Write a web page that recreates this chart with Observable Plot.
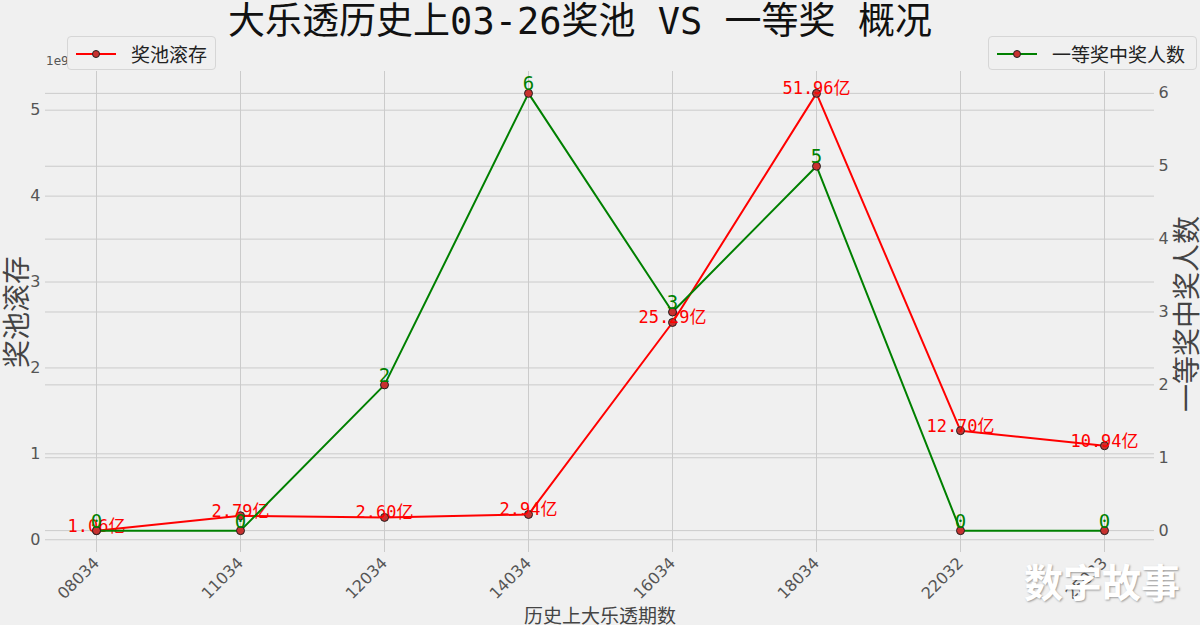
<!DOCTYPE html>
<html>
<head>
<meta charset="utf-8">
<script src="https://cdn.jsdelivr.net/npm/d3@7"></script>
<script src="https://cdn.jsdelivr.net/npm/@observablehq/plot@0.6"></script>
<style>
  html, body { margin: 0; padding: 0; background: #f0f0f0; }
  #wrap { position: relative; width: 1200px; height: 625px; overflow: hidden; background: #f0f0f0; }
  .ov { position: absolute; white-space: nowrap; font-family: "Noto Sans CJK SC", "Noto Sans", sans-serif; }
  .legend { position: absolute; box-sizing: border-box; border: 1px solid #d6d6d6; border-radius: 4px; background: rgba(240,240,240,0.8); }
  .legend svg { position: absolute; left: 7px; top: 0; }
  .legend span { position: absolute; font-family: "Noto Sans CJK SC", sans-serif; font-size: 19px; color: #222; line-height: 19px; }
</style>
</head>
<body>
<div id="wrap"></div>
<script>
// ---- data ----
const periods = ["08034", "11034", "12034", "14034", "16034", "18034", "22032", "25033"];
const poolYi = [1.06, 2.79, 2.60, 2.94, 25.29, 51.96, 12.70, 10.94];   // 亿
const winners = [0, 0, 2, 6, 3, 5, 0, 0];
const leftTicks = [0, 1, 2, 3, 4, 5];        // ×1e9
const rightTicks = [0, 1, 2, 3, 4, 5, 6];

// ---- scales (matplotlib-like 5% margins) ----
const pool = poolYi.map(v => v * 1e8);
const lo = d3.min(pool), hi = d3.max(pool), pad = 0.05 * (hi - lo);
const yDomain = [lo - pad, hi + pad];
const wLo = d3.min(winners), wHi = d3.max(winners), wPad = 0.05 * (wHi - wLo);
const rDomain = [wLo - wPad, wHi + wPad];
const r2l = d3.scaleLinear(rDomain, yDomain);

const rows = periods.map((p, i) => ({
  p, pool: pool[i], w: winners[i], wy: r2l(winners[i]),
  poolLabel: poolYi[i].toFixed(2) + "亿", wLabel: String(winners[i])
}));

const grid = "#cbcbcb";
const tickFont = "DejaVu Sans, sans-serif";
const labelFont = "DejaVu Sans Mono, Noto Sans CJK SC, sans-serif";

const chart = Plot.plot({
  width: 1200, height: 625,
  marginLeft: 45, marginRight: 46, marginTop: 71, marginBottom: 73,
  style: { background: "#f0f0f0", fontFamily: "Noto Sans CJK SC, sans-serif", overflow: "visible" },
  x: { type: "point", domain: periods, padding: 0.35, label: null },
  y: { domain: yDomain, label: null },
  marks: [
    Plot.gridX(periods, { stroke: grid, strokeOpacity: 1, strokeWidth: 1 }),
    Plot.gridY(leftTicks.map(v => v * 1e9), { stroke: grid, strokeOpacity: 1, strokeWidth: 1 }),
    Plot.gridY(rightTicks.map(v => r2l(v)), { stroke: grid, strokeOpacity: 1, strokeWidth: 1 }),
    Plot.axisX({ tickRotate: -45, tickSize: 0, tickPadding: 8, fontSize: 16, color: "#555", fontFamily: tickFont, label: null }),
    Plot.axisY(leftTicks.map(v => v * 1e9), { anchor: "left", tickSize: 0, tickPadding: 5, fontSize: 16, color: "#555", fontFamily: tickFont, tickFormat: d => String(Math.round(d / 1e9)), label: null }),
    Plot.axisY(rightTicks.map(v => r2l(v)), { anchor: "right", tickSize: 0, tickPadding: 4, fontSize: 16, color: "#555", fontFamily: tickFont, tickFormat: d => String(Math.round(r2l.invert(d))), label: null }),
    Plot.line(rows, { x: "p", y: "pool", stroke: "red", strokeWidth: 2 }),
    Plot.dot(rows, { x: "p", y: "pool", r: 4, fill: "#c8312f", stroke: "#222", strokeWidth: 1 }),
    Plot.text(rows, { x: "p", y: "pool", text: "poolLabel", fill: "red", fontSize: 17, fontFamily: labelFont, lineAnchor: "bottom", dy: 1 }),
    Plot.line(rows, { x: "p", y: "wy", stroke: "green", strokeWidth: 2 }),
    Plot.dot(rows, { x: "p", y: "wy", r: 4, fill: "#c8312f", stroke: "#222", strokeWidth: 1 }),
    Plot.text(rows, { x: "p", y: "wy", text: "wLabel", fill: "green", fontSize: 19, fontFamily: labelFont, lineAnchor: "bottom", dy: -3 })
  ]
});

const wrap = document.getElementById("wrap");
wrap.appendChild(chart);

function addText(txt, css) {
  const d = document.createElement("div");
  d.className = "ov";
  d.textContent = txt;
  Object.assign(d.style, css);
  wrap.appendChild(d);
  return d;
}
// title
addText("大乐透历史上03-26奖池 VS 一等奖 概况", { left: "580px", top: "2px", transform: "translateX(-50%)", fontSize: "37px", lineHeight: "40px", color: "#111", fontFamily: labelFont });
// exponent
addText("1e9", { left: "46px", top: "55px", fontSize: "12px", lineHeight: "12px", color: "#555", fontFamily: "DejaVu Sans, sans-serif" });
// axis titles
addText("奖池滚存", { left: "15px", top: "312px", transform: "translate(-50%,-50%) rotate(-90deg)", fontSize: "28px", lineHeight: "30px", color: "#444" });
addText("一等奖中奖人数", { left: "1185px", top: "314px", transform: "translate(-50%,-50%) rotate(-90deg)", fontSize: "28px", lineHeight: "30px", color: "#444" });
addText("历史上大乐透期数", { left: "600px", top: "615px", transform: "translate(-50%,-50%)", fontSize: "19px", lineHeight: "20px", color: "#444" });

// legends
function addLegend(left, top, w, h, color, label, textLeft) {
  const box = document.createElement("div");
  box.className = "legend";
  Object.assign(box.style, { left: left + "px", top: top + "px", width: w + "px", height: h + "px" });
  box.innerHTML = `<svg width="42" height="${h}"><line x1="1" x2="41" y1="${h/2}" y2="${h/2}" stroke="${color}" stroke-width="2"/><circle cx="21" cy="${h/2}" r="3.5" fill="#c8312f" stroke="#222" stroke-width="1"/></svg><span style="left:${textLeft}px;top:${(h-2)/2 - 9.5}px">${label}</span>`;
  wrap.appendChild(box);
}
addLegend(67, 36, 149, 34, "red", "奖池滚存", 63);
addLegend(988, 36, 209, 34, "green", "一等奖中奖人数", 63);

// watermark
addText("数字故事", { left: "1102px", top: "580px", transform: "translate(-50%,-50%)", fontSize: "39px", lineHeight: "42px", color: "#fff", fontWeight: "bold", textShadow: "1px 1px 2px rgba(0,0,0,0.35)" });
</script>
</body>
</html>
